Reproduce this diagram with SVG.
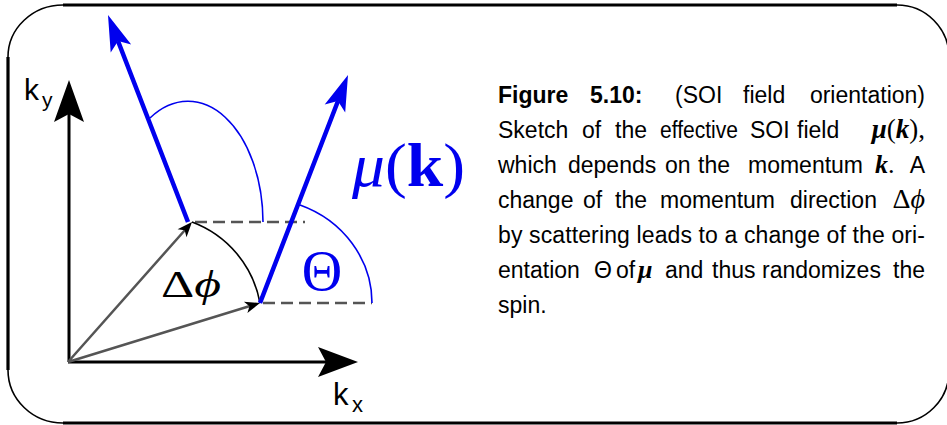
<svg xmlns="http://www.w3.org/2000/svg" width="947" height="425" viewBox="0 0 947 425">
<style>
.frameline{stroke:#000;stroke-width:3.2;fill:none}
.framearc{stroke:#000;stroke-width:1.6;fill:none}
.axis{stroke:#000;stroke-width:3;fill:none}
.kvec{stroke:#555;stroke-width:2.5;fill:none}
.dash{stroke:#555;stroke-width:2.5;fill:none;stroke-dasharray:12 6}
.mu{stroke:#0000ee;stroke-width:4.5;fill:none}
.thinblue{stroke:#0000ee;stroke-width:1.6;fill:none}
.blk{fill:#000}
.bluef{fill:#0000ee}
.sans{font-family:"Liberation Sans",Arial,sans-serif}
.math{font-family:"Liberation Serif","Times New Roman",serif}
.cap{font-family:"Liberation Sans",Arial,sans-serif;font-size:23px;fill:#000}
.capm{font-family:"Liberation Serif","Times New Roman",serif;fill:#000}
</style>
<g id="frame">
<path class="frameline" d="M63,5 H897 M8,57 V370 M63,423 H897"/>
<path class="framearc" d="M63,5 A55,52 0 0 0 8,57 M8,370 A55,53 0 0 0 63,423 M897,5 A52,52 0 0 1 949,57 M949,371 A52,52 0 0 1 897,423"/>
</g>
<g id="axes">
<path class="axis" d="M69,362 V112 M68,362 H326"/>
<polygon class="blk" points="69,80 84,122 69,114 54,122"/>
<polygon class="blk" points="358,362 318,377 326,362 318,347"/>
<text class="sans" x="24" y="100" font-size="30">k</text>
<text class="sans" x="42" y="107" font-size="21">y</text>
<text class="sans" x="333" y="405" font-size="31">k</text>
<text class="sans" x="352" y="412" font-size="22">x</text>
</g>
<g id="connectors">
<path class="kvec" d="M68,362 L185,230 M68,362 L250,306"/>
<polygon class="blk" points="192,222 186.5,237.2 184.7,230.2 177.6,229.3"/>
<polygon class="blk" points="260,303 247.4,313.1 249.5,306.2 243.9,301.7"/>
<path class="dash" d="M195,222 H305 M263,303 H372"/>
<path d="M192,222 A107,107 0 0 1 260,303" stroke="#000" stroke-width="1.6" fill="none"/>
<path class="mu" d="M188,222 L118,41 M260,303 L338,101"/>
<polygon class="bluef" points="108,15 131.2,44.6 118.1,41.1 110.7,52.5"/>
<polygon class="bluef" points="348,75 345.2,112.5 337.9,101.1 324.7,104.6"/>
<path class="thinblue" d="M150,118 A75,121 0 0 1 263,222 M300,205 A112,105 0 0 1 372,303"/>
</g>
<g id="labels">
<text class="math" x="352" y="186" font-size="62" fill="#0000ee" textLength="113" lengthAdjust="spacingAndGlyphs"><tspan font-style="italic">μ</tspan>(<tspan font-weight="bold">k</tspan>)</text>
<text class="math" x="322" y="290" font-size="56" fill="#0000ee" text-anchor="middle">Θ</text>
<text class="math" x="161" y="297" font-size="38" fill="#000" textLength="60" lengthAdjust="spacingAndGlyphs">Δ<tspan font-style="italic">ϕ</tspan></text>
</g>
<g id="caption">
<text class="cap" y="103.3"><tspan x="498" font-weight="bold">Figure</tspan><tspan x="590" font-weight="bold">5.10:</tspan><tspan x="675">(SOI</tspan><tspan x="743">field</tspan></text>
<text class="cap" x="925" y="103.3" text-anchor="end">orientation)</text>
<text class="cap" y="138.2"><tspan x="498">Sketch</tspan><tspan x="582">of</tspan><tspan x="615">the</tspan></text>
<text class="cap" x="660" y="138.2" textLength="78" lengthAdjust="spacingAndGlyphs">effective</text>
<text class="cap" y="138.2"><tspan x="750">SOI</tspan><tspan x="797">field</tspan></text>
<text class="capm" x="925" y="138.2" style="font-size:27px" text-anchor="end"><tspan font-style="italic" font-weight="bold">μ</tspan>(<tspan font-style="italic" font-weight="bold">k</tspan>),</text>
<text class="cap" y="173.1"><tspan x="498">which</tspan><tspan x="568">depends</tspan><tspan x="665">on</tspan><tspan x="698">the</tspan><tspan x="748">momentum</tspan></text>
<text class="capm" x="875" y="173.1" style="font-size:26px"><tspan font-style="italic" font-weight="bold">k</tspan>.</text>
<text class="cap" x="925" y="173.1" text-anchor="end">A</text>
<text class="cap" y="208"><tspan x="498">change</tspan><tspan x="583">of</tspan><tspan x="615">the</tspan><tspan x="660">momentum</tspan><tspan x="790">direction</tspan></text>
<text class="capm" x="925" y="208" style="font-size:28px" text-anchor="end">Δ<tspan font-style="italic">ϕ</tspan></text>
<text class="cap" x="498" y="242.9" textLength="427" lengthAdjust="spacing">by scattering leads to a change of the ori-</text>
<text class="cap" y="277.8"><tspan x="498">entation</tspan><tspan x="594">Θ</tspan><tspan x="616">of</tspan></text>
<text class="capm" x="638" y="277.8" style="font-size:26px" font-style="italic" font-weight="bold">μ</text>
<text class="cap" y="277.8"><tspan x="665">and</tspan><tspan x="712">thus</tspan><tspan x="762">randomizes</tspan></text>
<text class="cap" x="925" y="277.8" text-anchor="end">the</text>
<text class="cap" x="498" y="312.7">spin.</text>
</g>
</svg>
